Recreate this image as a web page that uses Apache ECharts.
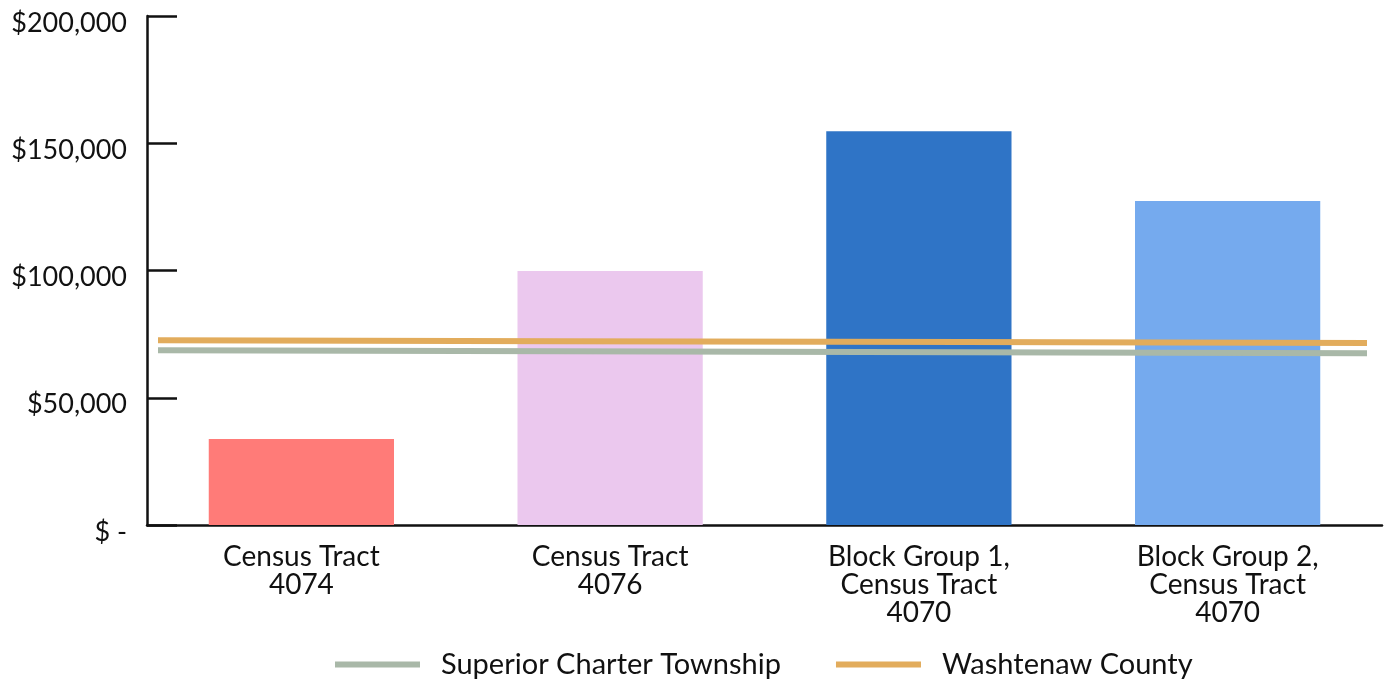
<!DOCTYPE html>
<html>
<head>
<meta charset="utf-8">
<script src="https://cdn.jsdelivr.net/npm/echarts@6/dist/echarts.min.js"></script>
<style>html,body{margin:0;padding:0;background:#fff}#c{width:1390px;height:681px}</style>
</head>
<body>
<div id="c"></div>
<script>
const categories = ['Census Tract\n4074', 'Census Tract\n4076', 'Block Group 1,\nCensus Tract\n4070', 'Block Group 2,\nCensus Tract\n4070'];
const barValues = [33800, 99800, 154700, 127300];
const barColors = ['#FF7B78', '#EBC8EE', '#2F74C6', '#75AAEE'];
const townshipValues = [68700, 68300, 67900, 67500];
const countyValues = [72600, 72200, 71900, 71500];
const yTicks = [0, 50000, 100000, 150000, 200000];

function fmt(v) {
  const t = v === 0 ? '$ -' : '$' + v.toLocaleString('en-US');
  return '{v|' + t + '}';
}

const font = 'Lato';
const ink = '#111';
const chart = echarts.init(document.getElementById('c'));
chart.setOption({
  animation: false,
  textStyle: { fontFamily: font },
  grid: [
    { left: 147, right: 8, top: 16, bottom: 156 },
    { left: 158, right: 23, top: 16, bottom: 156 }
  ],
  legend: {
    bottom: -3,
    left: 330,
    itemGap: 55,
    itemWidth: 85,
    itemHeight: 6,
    icon: 'rect',
    textStyle: { fontSize: 29, color: ink, fontFamily: font, padding: [0, 0, 0, 16] },
    data: ['Superior Charter Township', 'Washtenaw County']
  },
  xAxis: [
    {
      type: 'category', gridIndex: 0, data: categories, boundaryGap: true,
      axisLine: { lineStyle: { color: ink, width: 2.5 } },
      axisTick: { inside: true, length: 12, lineStyle: { color: ink, width: 2.5 } },
      axisLabel: { fontSize: 28, color: ink, lineHeight: 28, margin: 18, interval: 0 }
    },
    {
      type: 'category', gridIndex: 1, data: categories, boundaryGap: false, show: false
    }
  ],
  yAxis: [
    {
      type: 'value', gridIndex: 0, min: 0, max: 200000, interval: 50000,
      axisLine: { show: true, lineStyle: { color: ink, width: 2.5 } },
      axisTick: { show: true, inside: true, length: 30, lineStyle: { color: ink, width: 2.5 } },
      splitLine: { show: false },
      axisLabel: {
        fontSize: 27, color: ink, margin: 20, formatter: fmt,
        rich: { v: { fontSize: 27, color: ink, fontFamily: font, padding: [14, 0, 0, 0] } }
      }
    },
    { type: 'value', gridIndex: 1, min: 0, max: 200000, show: false, splitLine: { show: false } }
  ],
  series: [
    {
      type: 'bar', xAxisIndex: 0, yAxisIndex: 0, barWidth: '60%',
      data: barValues.map((v, i) => ({ value: v, itemStyle: { color: barColors[i] } }))
    },
    {
      name: 'Superior Charter Township', type: 'line', xAxisIndex: 1, yAxisIndex: 1,
      data: townshipValues, showSymbol: false, symbol: 'none',
      lineStyle: { color: '#A9B8A8', width: 6 }, itemStyle: { color: '#A9B8A8' }
    },
    {
      name: 'Washtenaw County', type: 'line', xAxisIndex: 1, yAxisIndex: 1,
      data: countyValues, showSymbol: false, symbol: 'none',
      lineStyle: { color: '#E2AC5C', width: 6 }, itemStyle: { color: '#E2AC5C' }
    }
  ]
});
</script>
</body>
</html>
